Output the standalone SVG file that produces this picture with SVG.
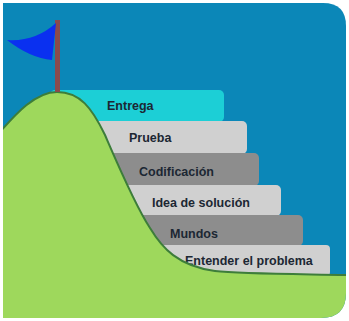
<svg xmlns="http://www.w3.org/2000/svg" width="349" height="321" viewBox="0 0 349 321">
  <defs>
    <clipPath id="frame">
      <path d="M3,3 H323 Q346,3 346,26 V293 Q346,318 321,318 H3 Z"/>
    </clipPath>
    <style>
      .step-label { font-family: "Liberation Sans", Arial, sans-serif; font-weight: bold; font-size: 12.5px; fill: #1c2733; }
      .cyan { fill: #1ccfd6; }
      .light { fill: #d0d0d0; }
      .dark { fill: #8d8d8d; }
    </style>
  </defs>
  <rect width="349" height="321" fill="#ffffff"/>
  <g clip-path="url(#frame)">
    <rect x="0" y="0" width="349" height="321" fill="#0b87b8"/>

    <!-- staircase steps, top to bottom -->
    <g id="step-entrega">
      <rect class="cyan" x="50" y="90" width="174" height="32" rx="5"/>
      <text class="step-label" x="107" y="110">Entrega</text>
    </g>
    <g id="step-prueba">
      <rect class="light" x="60" y="121" width="187" height="33" rx="5"/>
      <text class="step-label" x="129" y="142">Prueba</text>
    </g>
    <g id="step-codificacion">
      <rect class="dark" x="70" y="153" width="189" height="33" rx="5"/>
      <text class="step-label" x="139" y="176">Codificación</text>
    </g>
    <g id="step-idea">
      <rect class="light" x="80" y="185" width="201" height="31" rx="5"/>
      <text class="step-label" x="152" y="207">Idea de solución</text>
    </g>
    <g id="step-mundos">
      <rect class="dark" x="90" y="215" width="213" height="31" rx="5"/>
      <text class="step-label" x="170" y="238">Mundos</text>
    </g>
    <g id="step-entender">
      <rect class="light" x="100" y="245" width="230" height="31" rx="4"/>
      <text class="step-label" x="185" y="265">Entender el problema</text>
    </g>

    <!-- hill -->
    <g id="hill">
      <path d="M0,132 C15,115 35,92 57,92 C80,92 92,108 105,135 C118,165 135,205 150,228 C162,248 178,266 215,271 C240,274 300,274 349,275 V321 H0 Z" fill="#9ed85c" stroke="#3d7d3a" stroke-width="2"/>
    </g>

    <!-- flag on the summit -->
    <g id="flag">
      <rect x="55" y="20" width="5" height="72" fill="#8a4a4c"/>
      <path d="M56,23 Q35,42 7,40 Q30,58 52,60 Z" fill="#0a30f0"/>
    </g>
  </g>
</svg>
